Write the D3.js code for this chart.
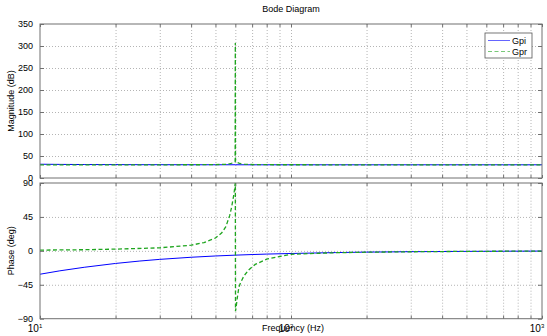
<!DOCTYPE html>
<html>
<head>
<meta charset="utf-8">
<script src="https://cdn.jsdelivr.net/npm/d3@7"></script>
<style>
  body { margin: 0; background: #fff; }
  text { font-family: "Liberation Sans", Arial, sans-serif; fill: #000; }
  .grid line { stroke: #b4b4b4; stroke-dasharray: 1,2; }
  .grid path { display: none; }
  .ticks line { stroke: #707070; }
  .ticks path { display: none; }
</style>
</head>
<body>
<script>
// Series data
var freqPi = [10, 12, 15, 20, 25, 30, 40, 50, 60, 70, 80, 100, 150, 200, 300, 500, 700, 1000];
var magPi = [31.3, 30.9, 30.6, 30.4, 30.25, 30.2, 30.1, 30.1, 30.05, 30, 30, 30, 30, 30, 30, 30, 30, 30];
var phasePi = [-31, -26.5, -21.8, -16.7, -13.5, -11.3, -8.5, -6.8, -5.7, -4.9, -4.3, -3.5, -2.3, -1.7, -1.1, -0.7, -0.5, -0.3];

var freqPr = [10, 15, 20, 30, 40, 45, 50, 53, 55, 57, 58, 59, 59.5, 59.9, 60, 60.1, 60.5, 61, 62, 63, 65, 68, 72, 80, 100, 150, 200, 300, 500, 700, 1000];
var magPr = [30, 30, 30, 30, 30.1, 30.2, 30.4, 30.8, 31.3, 32.3, 33.5, 35.5, 36.5, 37, 307, 37, 36.5, 35.5, 33.8, 32.6, 31.5, 30.8, 30.4, 30.2, 30.1, 30, 30, 30, 30, 30, 30];
var phasePr = [1, 1.5, 2.3, 4, 7.5, 11, 17, 24, 32, 47, 58, 72, 80, 89, 90, -80, -74, -64, -48, -42, -33, -25, -18, -11, -4.5, -2.5, -1.8, -1.2, -0.7, -0.5, -0.3];

var seriesNames = ["Gpi", "Gpr"];
var magTicks = [0, 50, 100, 150, 200, 250, 300, 350];
var phaseTicks = [-90, -45, 0, 45, 90];
var decades = [10, 100, 1000];

var width = 547, height = 336;
var left = 40, right = 542;
var magTop = 24, magBottom = 178;
var phTop = 183, phBottom = 318.7;

var svg = d3.select("body").append("svg")
  .attr("width", width)
  .attr("height", height);

var x = d3.scaleLog().domain([10, 1000]).range([left, right]);
var yMag = d3.scaleLinear().domain([0, 350]).range([magBottom, magTop]);
var yPh = d3.scaleLinear().domain([-90, 90]).range([phBottom, phTop]);

// all log ticks 10..1000
var xTicks = [];
[10, 100].forEach(function(d) {
  for (var k = 1; k < 10; k++) xTicks.push(d * k);
});
xTicks.push(1000);

var colors = { Gpi: "#0000ff", Gpr: "#1fa51f" };

function panel(yScale, yTicks, top, bottom, id) {
  var g = svg.append("g");

  // grid
  g.append("g").attr("class", "grid")
    .attr("transform", "translate(0," + bottom + ")")
    .call(d3.axisBottom(x).tickValues(xTicks.slice(1, -1)).tickSize(-(bottom - top)).tickFormat(""));
  g.append("g").attr("class", "grid")
    .attr("transform", "translate(" + left + ",0)")
    .call(d3.axisLeft(yScale).tickValues(yTicks.slice(1, -1)).tickSize(-(right - left)).tickFormat(""));

  // inward ticks on all four sides
  g.append("g").attr("class", "ticks")
    .attr("transform", "translate(0," + bottom + ")")
    .call(d3.axisBottom(x).tickValues(xTicks).tickSize(-3).tickFormat(""));
  g.append("g").attr("class", "ticks")
    .attr("transform", "translate(0," + top + ")")
    .call(d3.axisTop(x).tickValues(xTicks).tickSize(-3).tickFormat(""));
  g.append("g").attr("class", "ticks")
    .attr("transform", "translate(" + right + ",0)")
    .call(d3.axisRight(yScale).tickValues(yTicks).tickSize(-4).tickFormat(""));
  var ya = g.append("g").attr("class", "ticks")
    .attr("transform", "translate(" + left + ",0)")
    .call(d3.axisLeft(yScale).tickValues(yTicks).tickSize(-4).tickPadding(7));
  ya.selectAll("text").style("font-size", "9px").attr("fill", "#000");

  svg.append("clipPath").attr("id", id)
    .append("rect").attr("x", left).attr("y", top - 1)
    .attr("width", right - left).attr("height", bottom - top + 2);

  return g;
}

var gMag = panel(yMag, magTicks, magTop, magBottom, "clipMag");
var gPh = panel(yPh, phaseTicks, phTop, phBottom, "clipPh");

function drawLine(g, clip, xs, ys, yScale, name) {
  var pts = xs.map(function(f, i) { return [f, ys[i]]; });
  var line = d3.line()
    .x(function(d) { return x(d[0]); })
    .y(function(d) { return yScale(d[1]); });
  g.append("path")
    .datum(pts)
    .attr("clip-path", "url(#" + clip + ")")
    .attr("d", line)
    .attr("fill", "none")
    .attr("stroke", colors[name])
    .attr("stroke-width", name == "Gpr" ? 1.3 : 1)
    .attr("stroke-dasharray", name == "Gpr" ? "4,2.5" : null);
}

drawLine(gMag, "clipMag", freqPi, magPi, yMag, "Gpi");
drawLine(gMag, "clipMag", freqPr, magPr, yMag, "Gpr");
drawLine(gPh, "clipPh", freqPi, phasePi, yPh, "Gpi");
drawLine(gPh, "clipPh", freqPr, phasePr, yPh, "Gpr");

// frames
[[magTop, magBottom], [phTop, phBottom]].forEach(function(p) {
  svg.append("rect")
    .attr("x", left).attr("y", p[0])
    .attr("width", right - left).attr("height", p[1] - p[0])
    .attr("fill", "none").attr("stroke", "#707070").attr("stroke-width", 1);
});

// x tick labels (decades)
decades.forEach(function(d) {
  var t = svg.append("text")
    .attr("x", x(d) - 5)
    .attr("y", 332)
    .attr("text-anchor", "middle")
    .style("font-size", "10px");
  t.append("tspan").text("10");
  t.append("tspan").attr("dy", -4).style("font-size", "6px").text(Math.round(Math.log10(d)));
});

// title and axis labels
svg.append("text")
  .attr("x", (left + right) / 2).attr("y", 12)
  .attr("text-anchor", "middle")
  .style("font-size", "9px")
  .text("Bode Diagram");

svg.append("text")
  .attr("x", (left + right) / 2 + 2).attr("y", 331)
  .attr("text-anchor", "middle")
  .style("font-size", "9px")
  .text("Frequency  (Hz)");

svg.append("text")
  .attr("transform", "translate(14," + (magTop + magBottom) / 2 + ") rotate(-90)")
  .attr("text-anchor", "middle")
  .style("font-size", "9px")
  .text("Magnitude (dB)");

svg.append("text")
  .attr("transform", "translate(14," + (phTop + phBottom) / 2 + ") rotate(-90)")
  .attr("text-anchor", "middle")
  .style("font-size", "9px")
  .text("Phase (deg)");

// legend
var lg = svg.append("g").attr("transform", "translate(485,33)");
lg.append("rect")
  .attr("width", 47).attr("height", 25)
  .attr("fill", "#fff").attr("stroke", "#555").attr("stroke-width", 0.8);
seriesNames.forEach(function(name, i) {
  var yy = 7.5 + i * 11;
  lg.append("line")
    .attr("x1", 3).attr("x2", 25).attr("y1", yy).attr("y2", yy)
    .attr("stroke", colors[name]).attr("stroke-width", 1)
    .attr("stroke-dasharray", name == "Gpr" ? "4,2.5" : null)
    .attr("opacity", 0.6);
  lg.append("text")
    .attr("x", 27).attr("y", yy + 3.5)
    .style("font-size", "9px")
    .text(name);
});
</script>
</body>
</html>
